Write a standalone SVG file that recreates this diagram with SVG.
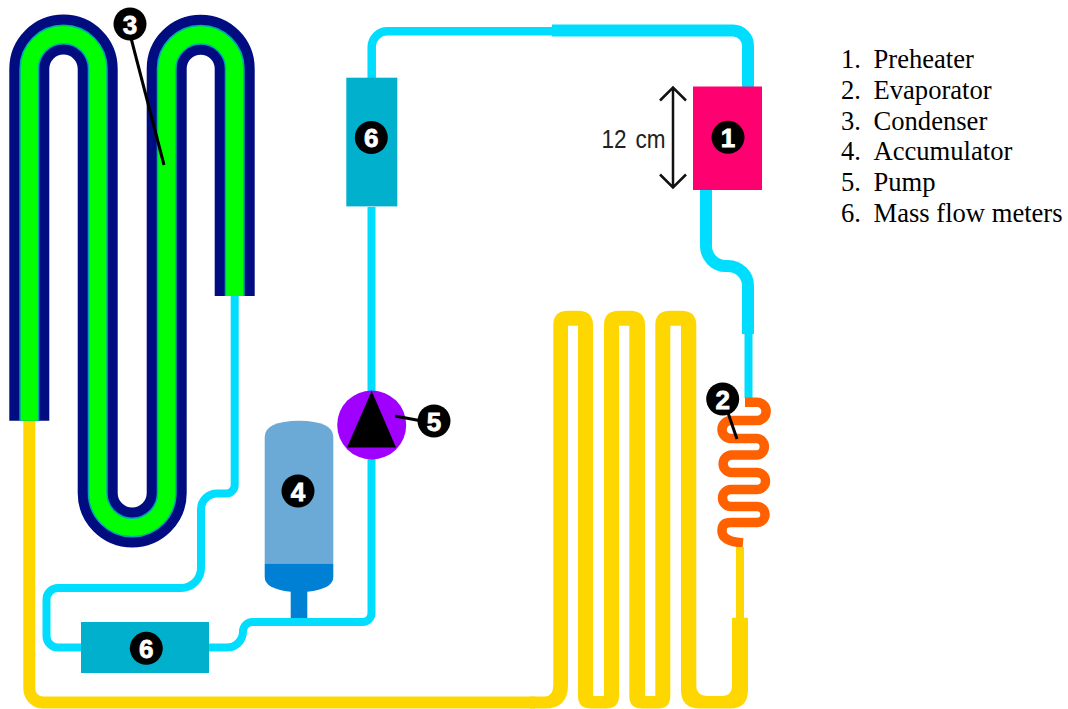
<svg xmlns="http://www.w3.org/2000/svg" width="1068" height="709" viewBox="0 0 1068 709">
<style>
.p{fill:none;stroke-linecap:butt;stroke-linejoin:round}
.c{stroke:#00DDFF}
.y{stroke:#FFD700}
.b{fill:#000}
.n{fill:#fff;stroke:#fff;stroke-width:.8px;font:bold 26px "Liberation Sans",Arial,sans-serif;text-anchor:middle}
.l{stroke:#000;stroke-width:3;fill:none}
.t{fill:#000;font:26.600px "Liberation Serif","Times New Roman",serif}
</style>
<rect width="1068" height="709" fill="#fff"/>
<g id="connectors">
<path class="p c" stroke-width="8" d="M234.700 296V485A8.500 8.500 0 0 1 226 493.500H217A16 16 0 0 0 201 509.500V568A20 20 0 0 1 181 588H58A11.500 11.500 0 0 0 46.500 599.500V636A11.500 11.500 0 0 0 58 647.500H81"/>
<path class="p c" stroke-width="8" d="M209 647.500H227A16 16 0 0 0 243 631.500A9.500 9.500 0 0 1 252.500 622H362A9 9 0 0 0 371.500 613V207"/>
<path class="p c" stroke-width="8.500" d="M371.700 78V47A15.700 15.700 0 0 1 387.400 31.300H552"/>
<path class="p c" stroke-width="12" d="M552 30.500H733A15 15 0 0 1 748 45.500V87"/>
<path class="p c" stroke-width="12" d="M706 190V246A20 20 0 0 0 726 266H728A20 20 0 0 1 748 286V334"/>
<path class="p c" stroke-width="8" d="M748.500 334V398"/>
<path class="p" stroke="#FF6000" stroke-width="9.500" d="M745 402.300H757A9 9 0 0 1 757 420.500H731A9 9 0 0 0 731 438.500H757A8.300 8.300 0 0 1 757 455H731A8.800 8.800 0 0 0 731 472.500H757A8.500 8.500 0 0 1 757 489.500H731A8.500 8.500 0 0 0 731 506.500H757A8 8 0 0 1 757 522.500H731C722 522.500 722 528 722 531C722 538 730 542 743 543"/>
<path class="p y" stroke-width="8" d="M740 547V618"/>
<path class="p y" stroke-width="12" d="M29.300 420V688.500A14 14 0 0 0 43.300 702.500H535"/>
<path fill="#FFD700" d="M530 696.500H545Q553.300 696 553.300 685V325Q553.300 310.700 568 310.700H578Q593 310.700 593 325V696H604V325Q604 310.700 619 310.700H630Q645 310.700 645 325V696H655.300V325Q655.300 310.700 670 310.700H681Q696.300 310.700 696.300 325V685Q696.300 696 708 696H722Q732 696 732 685V617.700H748V690Q748 708.500 730 708.500H700Q681 708.500 681 690V325.700H670.300V696Q670.300 708.500 658 708.500H642Q629.300 708.500 629.300 696V325.700H619V696Q619 708.500 606 708.500H591Q578 708.500 578 696V325.700H568V685Q568 708.500 545 708.500H530Z"/>
</g>
<g id="condenser">
<path class="p" stroke="#000C80" stroke-width="40" d="M29.300 420.700V68.700A34.200 34.200 0 0 1 97.700 68.700V493A34.500 34.500 0 0 0 166.700 493V68.700A34 34 0 0 1 234.700 68.700V296"/>
<path class="p" stroke="#00A8B0" stroke-width="20" d="M29.300 420.700V68.700A34.200 34.200 0 0 1 97.700 68.700V493A34.500 34.500 0 0 0 166.700 493V68.700A34 34 0 0 1 234.700 68.700V296"/>
<path class="p" stroke="#00FF00" stroke-width="17" d="M29.300 420.700V68.700A34.200 34.200 0 0 1 97.700 68.700V493A34.500 34.500 0 0 0 166.700 493V68.700A34 34 0 0 1 234.700 68.700V296"/>
<line class="l" x1="131" y1="38" x2="164" y2="165"/>
<circle class="b" cx="130" cy="24" r="16.500"/><text class="n" x="130" y="33.500">3</text>
</g>
<g id="preheater">
<rect x="693" y="86.500" width="69" height="103.500" fill="#FF0070"/>
<circle class="b" cx="728" cy="137.300" r="16.500"/><text class="n" x="728" y="146.800">1</text>
</g>
<g id="dimension">
<path d="M673 88V187M660 100.500L673 87.500L686 100.500M660 174.500L673 187.500L686 174.500" fill="none" stroke="#111" stroke-width="2.500"/>
<text x="601.500" y="148.300" fill="#222" font-family="Liberation Sans,Arial,sans-serif" font-size="25" word-spacing="3" textLength="64" lengthAdjust="spacingAndGlyphs">12 cm</text>
</g>
<g id="evaporator">
<line class="l" x1="727" y1="410" x2="737" y2="439"/>
<circle class="b" cx="722.700" cy="399" r="16.500"/><text class="n" x="722.700" y="408.500">2</text>
</g>
<g id="accumulator">
<path d="M264.700 563.500V437Q264.700 421 299 420.700Q333.300 421 333.300 437V563.500Z" fill="#6BAAD6"/>
<path d="M264.700 563.500H333.300V577Q333.300 589 307.300 591.700V618H290.700V591.700Q264.700 589 264.700 577Z" fill="#0080D5"/>
<circle class="b" cx="298" cy="491" r="16.500"/><text class="n" x="298" y="500.500">4</text>
</g>
<g id="pump">
<circle cx="371.700" cy="425" r="34.500" fill="#A000FF"/>
<path d="M371.700 391L347 447.500H396Z" fill="#000"/>
<line class="l" x1="395" y1="416" x2="422" y2="421"/>
<circle class="b" cx="434" cy="421" r="16.500"/><text class="n" x="434" y="430.500">5</text>
</g>
<g id="meter-upper">
<rect x="346.300" y="77.700" width="51" height="128.700" fill="#00B0CC"/>
<circle class="b" cx="371.300" cy="137.500" r="16.500"/><text class="n" x="371.300" y="147">6</text>
</g>
<g id="meter-lower">
<rect x="81" y="622" width="128" height="51" fill="#00B0CC"/>
<circle class="b" cx="146.300" cy="648.300" r="16.500"/><text class="n" x="146.300" y="657.800">6</text>
</g>
<g id="legend">
<text class="t" x="841" y="68">1.</text><text class="t" x="873.500" y="68">Preheater</text>
<text class="t" x="841" y="99">2.</text><text class="t" x="873.500" y="99">Evaporator</text>
<text class="t" x="841" y="129.500">3.</text><text class="t" x="873.500" y="129.500">Condenser</text>
<text class="t" x="841" y="160">4.</text><text class="t" x="873.500" y="160">Accumulator</text>
<text class="t" x="841" y="191">5.</text><text class="t" x="873.500" y="191">Pump</text>
<text class="t" x="841" y="221.500">6.</text><text class="t" x="873.500" y="221.500">Mass flow meters</text>
</g>
</svg>
